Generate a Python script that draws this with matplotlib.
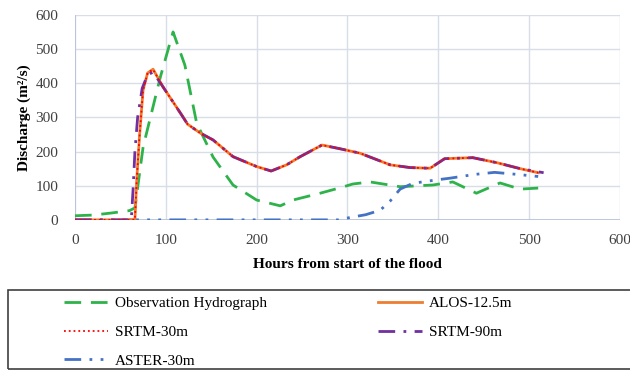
import matplotlib
matplotlib.use("Agg")
import matplotlib.pyplot as plt
from matplotlib.patches import Rectangle

plt.rcParams['font.family'] = ['Liberation Serif', 'DejaVu Serif']

# observed hydrograph
obs_x = [0, 20, 40, 60, 66, 75, 94, 108, 121, 134, 152, 174, 200, 226, 240,
         270, 292, 306, 325, 358, 394, 416, 442, 468, 490, 510]
obs_y = [12, 14, 20, 27, 35, 213, 418, 550, 453, 283, 184, 102, 58, 41, 58,
         78, 94, 105, 111, 97, 102, 111, 78, 108, 90, 93]

# simulated (ALOS and SRTM-30 sit on top of each other)
sim_x = [0, 64, 66, 68, 71, 75, 80, 86, 97, 116, 124, 138, 152, 174, 200, 216,
         233, 248, 272, 292, 314, 347, 369, 391, 407, 438, 465, 490, 510]
alos_y = [0, 0, 0, 117, 243, 380, 430, 441, 389, 313, 280, 254, 234, 185, 156,
          143, 161, 185, 219, 208, 195, 161, 153, 151, 179, 182, 167, 150, 138]
srtm30_y = [0, 0, 0, 117, 243, 380, 430, 440, 389, 313, 280, 254, 234, 185,
            156, 143, 161, 185, 219, 208, 195, 161, 153, 151, 179, 182, 167,
            150, 138]

srtm90_x = [0, 62, 64, 66, 69, 74, 80, 86, 97, 116, 124, 138, 152, 174, 200,
            216, 233, 248, 272, 292, 314, 347, 369, 391, 407, 438, 465, 490, 516]
srtm90_y = [0, 0, 90, 200, 300, 385, 425, 432, 389, 313, 280, 254, 234, 185,
            156, 143, 161, 185, 219, 208, 195, 161, 153, 151, 179, 182, 167,
            150, 138]

aster_x = [0, 290, 305, 320, 336, 347, 358, 372, 398, 413, 440, 462, 487, 510]
aster_y = [0, 0, 8, 15, 28, 55, 90, 107, 117, 122, 133, 139, 133, 127]

fig = plt.figure(figsize=(6.3, 3.72), dpi=100)
ax = fig.add_axes([0.119, 0.409, 0.865, 0.551])

l_obs, = ax.plot(obs_x, obs_y, color='#2DB34A', lw=2.0, dashes=(6, 3.5),
                 label='Observation Hydrograph')
l_aster, = ax.plot(aster_x, aster_y, color='#4472C4', lw=2.0,
                   dashes=(6, 3, 1, 3, 1, 3), label='ASTER-30m')
l_alos, = ax.plot(sim_x, alos_y, color='#ED7D31', lw=2.0, label='ALOS-12.5m')
l_s90, = ax.plot(srtm90_x, srtm90_y, color='#7030A0', lw=2.0,
                 dashes=(6, 3, 1, 3), label='SRTM-90m')
l_s30, = ax.plot(sim_x, srtm30_y, color='#FF0000', lw=1.3, ls=':',
                 label='SRTM-30m')

ax.set_xlim(0, 600)
ax.set_ylim(0, 600)
ax.set_xticks(range(0, 601, 100))
ax.set_yticks(range(0, 601, 100))
ax.grid(True, color='#D9DDE8', lw=1.0)
ax.set_axisbelow(True)
for s in ax.spines.values():
    s.set_visible(False)
ax.tick_params(length=0, labelsize=11, labelcolor='#404040')
ax.tick_params(axis='x', pad=10)
ax.tick_params(axis='y', pad=12)
ax.axvline(0, color='#B4C0D8', lw=1.2, zorder=1)
ax.axhline(0, color='#B4C0D8', lw=1.2, zorder=1)

ax.set_xlabel('Hours from start of the flood', fontsize=11,
              fontweight='bold', labelpad=8)
ax.set_ylabel('Discharge (m²/s)', fontsize=11, fontweight='bold',
              labelpad=3)

# legend box runs off the right edge like the source
fig.patches.append(Rectangle((8 / 630, 3 / 372), 640 / 630, 79 / 372,
                             transform=fig.transFigure, fill=False,
                             edgecolor='#404040', lw=1.2))
fig.legend(handles=[l_obs, l_s30, l_aster, l_alos, l_s90], ncol=2,
           loc='upper left', bbox_to_anchor=(50 / 630, 1 - 283 / 372),
           frameon=False, fontsize=11, handlelength=2.9,
           handletextpad=0.45, columnspacing=7.25, labelspacing=0.98)

fig.savefig('out.png', dpi=100)
